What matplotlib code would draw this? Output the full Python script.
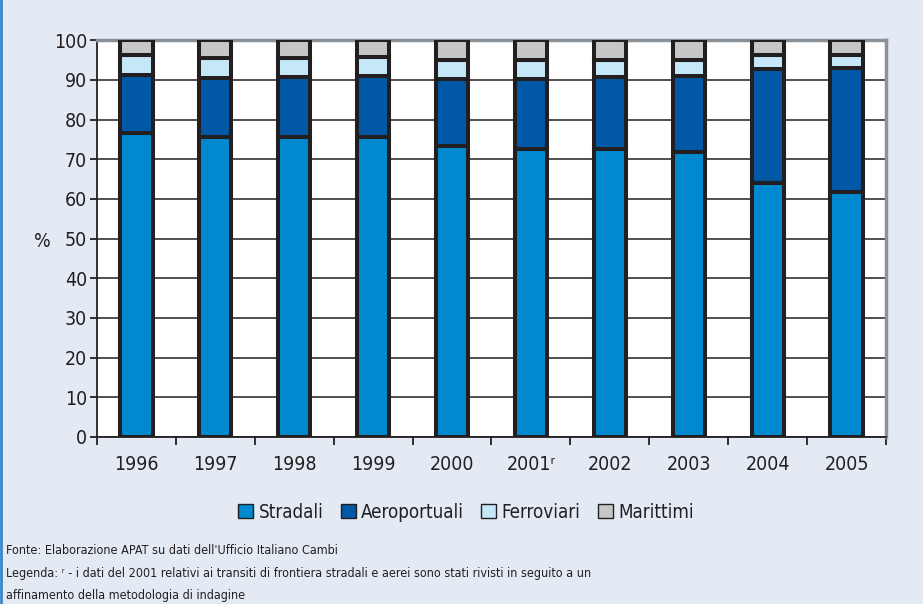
import numpy as np
import matplotlib.pyplot as plt
from matplotlib.patches import Patch

# Ripartizione percentuale dei transiti di frontiera per modalita'
years = ["1996", "1997", "1998", "1999", "2000", "2001ʳ", "2002", "2003", "2004", "2005"]
stradali = [76.6, 75.5, 75.6, 75.6, 73.3, 72.7, 72.7, 71.9, 64.1, 61.8]
aeroportuali = [14.7, 15.0, 15.2, 15.3, 17.0, 17.6, 18.1, 19.0, 28.7, 31.1]
ferroviari = [4.9, 4.9, 4.8, 4.9, 4.7, 4.8, 4.2, 4.2, 3.4, 3.3]
marittimi = [3.8, 4.6, 4.4, 4.2, 5.0, 4.9, 5.0, 4.9, 3.8, 3.8]

series = [stradali, aeroportuali, ferroviari, marittimi]
labels = ["Stradali", "Aeroportuali", "Ferroviari", "Marittimi"]
colors = ["#0089cf", "#0058a6", "#c5e8f8", "#c6c7c9"]

plt.rcParams['font.family'] = ['DejaVu Sans']
plt.rcParams['font.stretch'] = 'condensed'
bg = "#e3eaf4"
dark = "#231f20"

fig = plt.figure(figsize=(9.23, 6.04), dpi=100, facecolor=bg)
ax = fig.add_axes([0.105, 0.2765, 0.855, 0.657])
ax.set_facecolor("white")

x = np.arange(len(years))
bottom = np.zeros(len(years))
for vals, lab, col in zip(series, labels, colors):
    ax.bar(x, vals, width=0.41, bottom=bottom, color=col, edgecolor=dark,
           linewidth=2.9, label=lab, zorder=3)
    bottom += np.array(vals)

ax.set_xlim(-0.5, len(years) - 0.5)
ax.set_ylim(0, 100)
ax.set_yticks(np.arange(0, 101, 10))
ax.yaxis.grid(True, color=dark, linewidth=1.1, zorder=0)
ax.set_axisbelow(True)

ax.set_xticks(x)
ax.set_xticklabels(years, fontsize=14, color=dark)
ax.set_xticks(np.arange(-0.5, len(years), 1), minor=True)
ax.tick_params(axis='x', which='major', length=0, pad=13)
ax.tick_params(axis='x', which='minor', length=6, width=1.3, color=dark)
ax.tick_params(axis='y', length=5, width=1.3, color=dark, labelsize=14, labelcolor=dark, pad=2)

ax.spines['left'].set_color(dark)
ax.spines['left'].set_linewidth(1.3)
ax.spines['bottom'].set_color(dark)
ax.spines['bottom'].set_linewidth(1.3)
ax.spines['top'].set_color("#8a9197")
ax.spines['top'].set_linewidth(2.5)
ax.spines['right'].set_color("#8a9197")
ax.spines['right'].set_linewidth(2.5)

fig.text(0.046, 0.6, "%", fontsize=14, color=dark, ha='center', va='center')

handles = [Patch(facecolor=c, edgecolor=dark, linewidth=1) for c in colors]
fig.legend(handles, labels, loc='center', bbox_to_anchor=(0.505, 0.152), ncol=4,
           frameon=False, fontsize=13.5, handlelength=0.8, handleheight=0.8,
           handletextpad=0.3, columnspacing=0.9, labelcolor=dark)

notes = [
    "Fonte: Elaborazione APAT su dati dell'Ufficio Italiano Cambi",
    "Legenda: ʳ - i dati del 2001 relativi ai transiti di frontiera stradali e aerei sono stati rivisti in seguito a un",
    "affinamento della metodologia di indagine",
]
for i, t in enumerate(notes):
    fig.text(0.006, 1 - (551 + 22 * i) / 604, t, fontsize=9, color=dark, va='center', ha='left')

# sottile bordo blu a sinistra
fig.add_artist(plt.Line2D([0.001, 0.001], [0, 1], color="#3a86c8", linewidth=2))

fig.savefig("out.png", dpi=100, facecolor=bg)
